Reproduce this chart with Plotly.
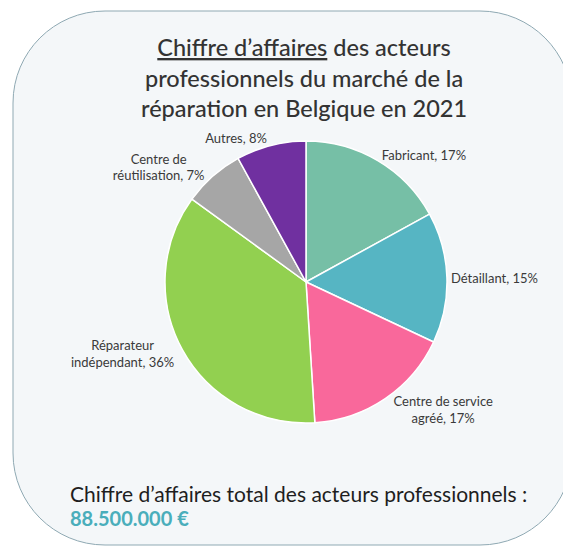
import plotly.graph_objects as go

# Données (parts du chiffre d'affaires, en %)
acteurs = [
    "Fabricant",
    "Détaillant",
    "Centre de service<br>agréé",
    "Réparateur<br>indépendant",
    "Centre de<br>réutilisation",
    "Autres",
]
parts = [17, 15, 17, 36, 7, 8]
couleurs = ["#76bfa6", "#56b5c3", "#f9689b", "#92d050", "#a6a6a6", "#7030a0"]

titre = "<u>Chiffre d’affaires</u> des acteurs<br>professionnels du marché de la<br>réparation en Belgique en 2021"
total_texte = "Chiffre d’affaires total des acteurs professionnels :"
total_valeur = "88.500.000 €"

W, H = 571, 546
# la page HTML ajoute une marge de 8 px autour de la figure
OX, OY = 8, 8


def px_x(x):
    return (x - OX) / W


def px_y(y):
    return 1 - (y - OY) / H


def boite_arrondie(x0, y0, x1, y1, r):
    # rectangle aux coins arrondis (arcs approchés par des courbes de Bézier)
    k = r * (1 - 0.5523)

    def p(x, y):
        return f"{px_x(x)},{px_y(y)}"

    pts = [
        f"M {p(x0 + r, y0)}",
        f"L {p(x1 - r, y0)}",
        f"C {p(x1 - k, y0)} {p(x1, y0 + k)} {p(x1, y0 + r)}",
        f"L {p(x1, y1 - r)}",
        f"C {p(x1, y1 - k)} {p(x1 - k, y1)} {p(x1 - r, y1)}",
        f"L {p(x0 + r, y1)}",
        f"C {p(x0 + k, y1)} {p(x0, y1 - k)} {p(x0, y1 - r)}",
        f"L {p(x0, y0 + r)}",
        f"C {p(x0, y0 + k)} {p(x0 + k, y0)} {p(x0 + r, y0)}",
        "Z",
    ]
    return " ".join(pts)


fig = go.Figure()
fig.add_trace(
    go.Pie(
        labels=acteurs,
        values=parts,
        sort=False,
        direction="clockwise",
        rotation=0,
        marker={"colors": couleurs, "line": {"color": "white", "width": 1.5}},
        texttemplate="%{label}, %{value}%",
        textposition="outside",
        outsidetextfont={"family": "Lato", "size": 13, "color": "#3a3a3a"},
        domain={"x": [px_x(306 - 141), px_x(306 + 141)], "y": [px_y(282 + 141), px_y(282 - 141)]},
        showlegend=False,
        hoverinfo="label+percent",
    )
)

fig.add_shape(
    type="path",
    xref="paper",
    yref="paper",
    path=boite_arrondie(13, 11, 572, 545, 92),
    line={"color": "#8fa9b3", "width": 1},
    fillcolor="#f4f7f9",
    layer="below",
)

fig.add_annotation(
    text=titre,
    x=px_x(304),
    y=px_y(77),
    xref="paper",
    yref="paper",
    xanchor="center",
    yanchor="middle",
    showarrow=False,
    font={"family": "Lato", "size": 23.5, "color": "#333333", "weight": 500},
    align="center",
)
fig.add_annotation(
    text=total_texte,
    x=px_x(68),
    y=px_y(493),
    xref="paper",
    yref="paper",
    xanchor="left",
    yanchor="middle",
    showarrow=False,
    font={"family": "Lato", "size": 21, "color": "#1e1e1e"},
)
fig.add_annotation(
    text=f"<b>{total_valeur}</b>",
    x=px_x(68),
    y=px_y(518),
    xref="paper",
    yref="paper",
    xanchor="left",
    yanchor="middle",
    showarrow=False,
    font={"family": "Lato", "size": 20, "color": "#4aaebb"},
)

fig.update_layout(
    width=W,
    height=H,
    margin={"l": 0, "r": 0, "t": 0, "b": 0},
    paper_bgcolor="white",
    plot_bgcolor="white",
)

fig.write_html("out.html")
